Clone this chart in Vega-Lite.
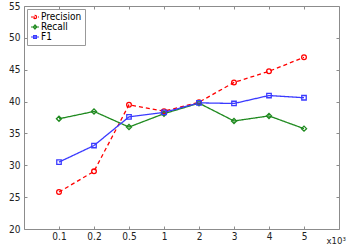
{
  "$schema": "https://vega.github.io/schema/vega-lite/v6.json",
  "width": 315,
  "height": 223,
  "autosize": {"type": "none"},
  "padding": {"left": 24, "top": 6, "right": 10, "bottom": 20},
  "background": "white",
  "config": {
    "view": {"stroke": "#8c8c8c", "strokeWidth": 1},
    "font": "DejaVu Sans Condensed",
    "axis": {"grid": false, "domain": false, "tickColor": "#8c8c8c", "tickSize": -3, "labelColor": "#222", "labelFontSize": 10, "labelFont": "DejaVu Sans Condensed"}
  },
  "datasets": {"d": [
    {"k": "0.1", "s": "Precision", "v": 25.8},
    {"k": "0.2", "s": "Precision", "v": 29.05},
    {"k": "0.5", "s": "Precision", "v": 39.5},
    {"k": "1", "s": "Precision", "v": 38.5},
    {"k": "2", "s": "Precision", "v": 39.9},
    {"k": "3", "s": "Precision", "v": 43.0},
    {"k": "4", "s": "Precision", "v": 44.75},
    {"k": "5", "s": "Precision", "v": 46.95},
    {"k": "0.1", "s": "Recall", "v": 37.3},
    {"k": "0.2", "s": "Recall", "v": 38.45},
    {"k": "0.5", "s": "Recall", "v": 36.0},
    {"k": "1", "s": "Recall", "v": 38.1},
    {"k": "2", "s": "Recall", "v": 39.75},
    {"k": "3", "s": "Recall", "v": 36.95},
    {"k": "4", "s": "Recall", "v": 37.75},
    {"k": "5", "s": "Recall", "v": 35.75},
    {"k": "0.1", "s": "F1", "v": 30.5},
    {"k": "0.2", "s": "F1", "v": 33.1},
    {"k": "0.5", "s": "F1", "v": 37.6},
    {"k": "1", "s": "F1", "v": 38.3},
    {"k": "2", "s": "F1", "v": 39.8},
    {"k": "3", "s": "F1", "v": 39.7},
    {"k": "4", "s": "F1", "v": 40.95},
    {"k": "5", "s": "F1", "v": 40.6}
  ]},
  "data": {"name": "d"},
  "layer": [
    {
      "layer": [
        {
          "mark": {"type": "line", "strokeWidth": 1.3},
          "encoding": {
            "strokeDash": {"field": "s", "type": "nominal", "scale": {"domain": ["Precision","Recall","F1"], "range": [[4,3],[1,0],[1,0]]}, "legend": null}
          }
        },
        {
          "transform": [{"filter": "datum.s === 'Precision'"}],
          "mark": {"type": "point", "shape": "circle", "filled": false, "size": 22, "strokeWidth": 1.3, "opacity": 1}
        },
        {
          "transform": [{"filter": "datum.s === 'Recall'"}],
          "mark": {"type": "point", "shape": "diamond", "filled": false, "size": 26, "strokeWidth": 1.3, "opacity": 1}
        },
        {
          "transform": [{"filter": "datum.s === 'F1'"}],
          "mark": {"type": "point", "shape": "square", "filled": false, "size": 20, "strokeWidth": 1.3, "opacity": 1}
        }
      ],
      "encoding": {
        "x": {"field": "k", "type": "ordinal", "sort": ["0.1","0.2","0.5","1","2","3","4","5"], "scale": {"type": "point", "padding": 1},
              "axis": {"labelAngle": 0, "title": "x10³", "titleFontSize": 9.5, "titleFontWeight": "normal", "titleFont": "DejaVu Sans Condensed", "titleColor": "#222", "titleAnchor": "end", "titleAlign": "left", "titleBaseline": "middle", "titleX": 302, "titleY": 11, "labelPadding": 5}},
        "y": {"field": "v", "type": "quantitative", "scale": {"domain": [20, 55], "nice": false, "zero": false}, "axis": {"values": [20,25,30,35,40,45,50,55], "title": null, "labelPadding": 7}},
        "color": {"field": "s", "type": "nominal", "sort": ["Precision","Recall","F1"], "scale": {"domain": ["Precision","Recall","F1"], "range": ["#ff0000","#1f8a1f","#3a3aff"]},
          "legend": {"title": null, "orient": "top-left", "offset": 3, "padding": 3, "strokeColor": "#999", "fillColor": "white", "labelFontSize": 10, "labelFont": "DejaVu Sans Condensed", "labelColor": "#000", "rowPadding": 0, "symbolSize": 64, "symbolStrokeWidth": 1.2, "labelOffset": 1, "symbolType": "circle",
            "encode": {"symbols": {"update": {"shape": {"signal": "datum.value === 'Precision' ? 'M-1,0H1M0.4,0A0.4,0.4 0 1,1 -0.4,0A0.4,0.4 0 1,1 0.4,0' : datum.value === 'Recall' ? 'M-1,0H1M0,-0.5L0.45,0L0,0.5L-0.45,0Z' : 'M-1,0H1M-0.35,-0.35H0.35V0.35H-0.35Z'"}, "fill": {"value": "transparent"}}}}}}
      }
    },
    {
      "mark": {"type": "line", "opacity": 0},
      "encoding": {
        "x": {"field": "k", "type": "ordinal", "sort": ["0.1","0.2","0.5","1","2","3","4","5"], "scale": {"type": "point", "padding": 1}, "axis": {"orient": "top", "labels": false, "title": null}},
        "y": {"field": "v", "type": "quantitative", "scale": {"domain": [20, 55], "nice": false, "zero": false}, "axis": {"orient": "right", "values": [20,25,30,35,40,45,50,55], "labels": false, "title": null}}
      }
    }
  ],
  "resolve": {"scale": {"x": "independent", "y": "independent"}}
}
